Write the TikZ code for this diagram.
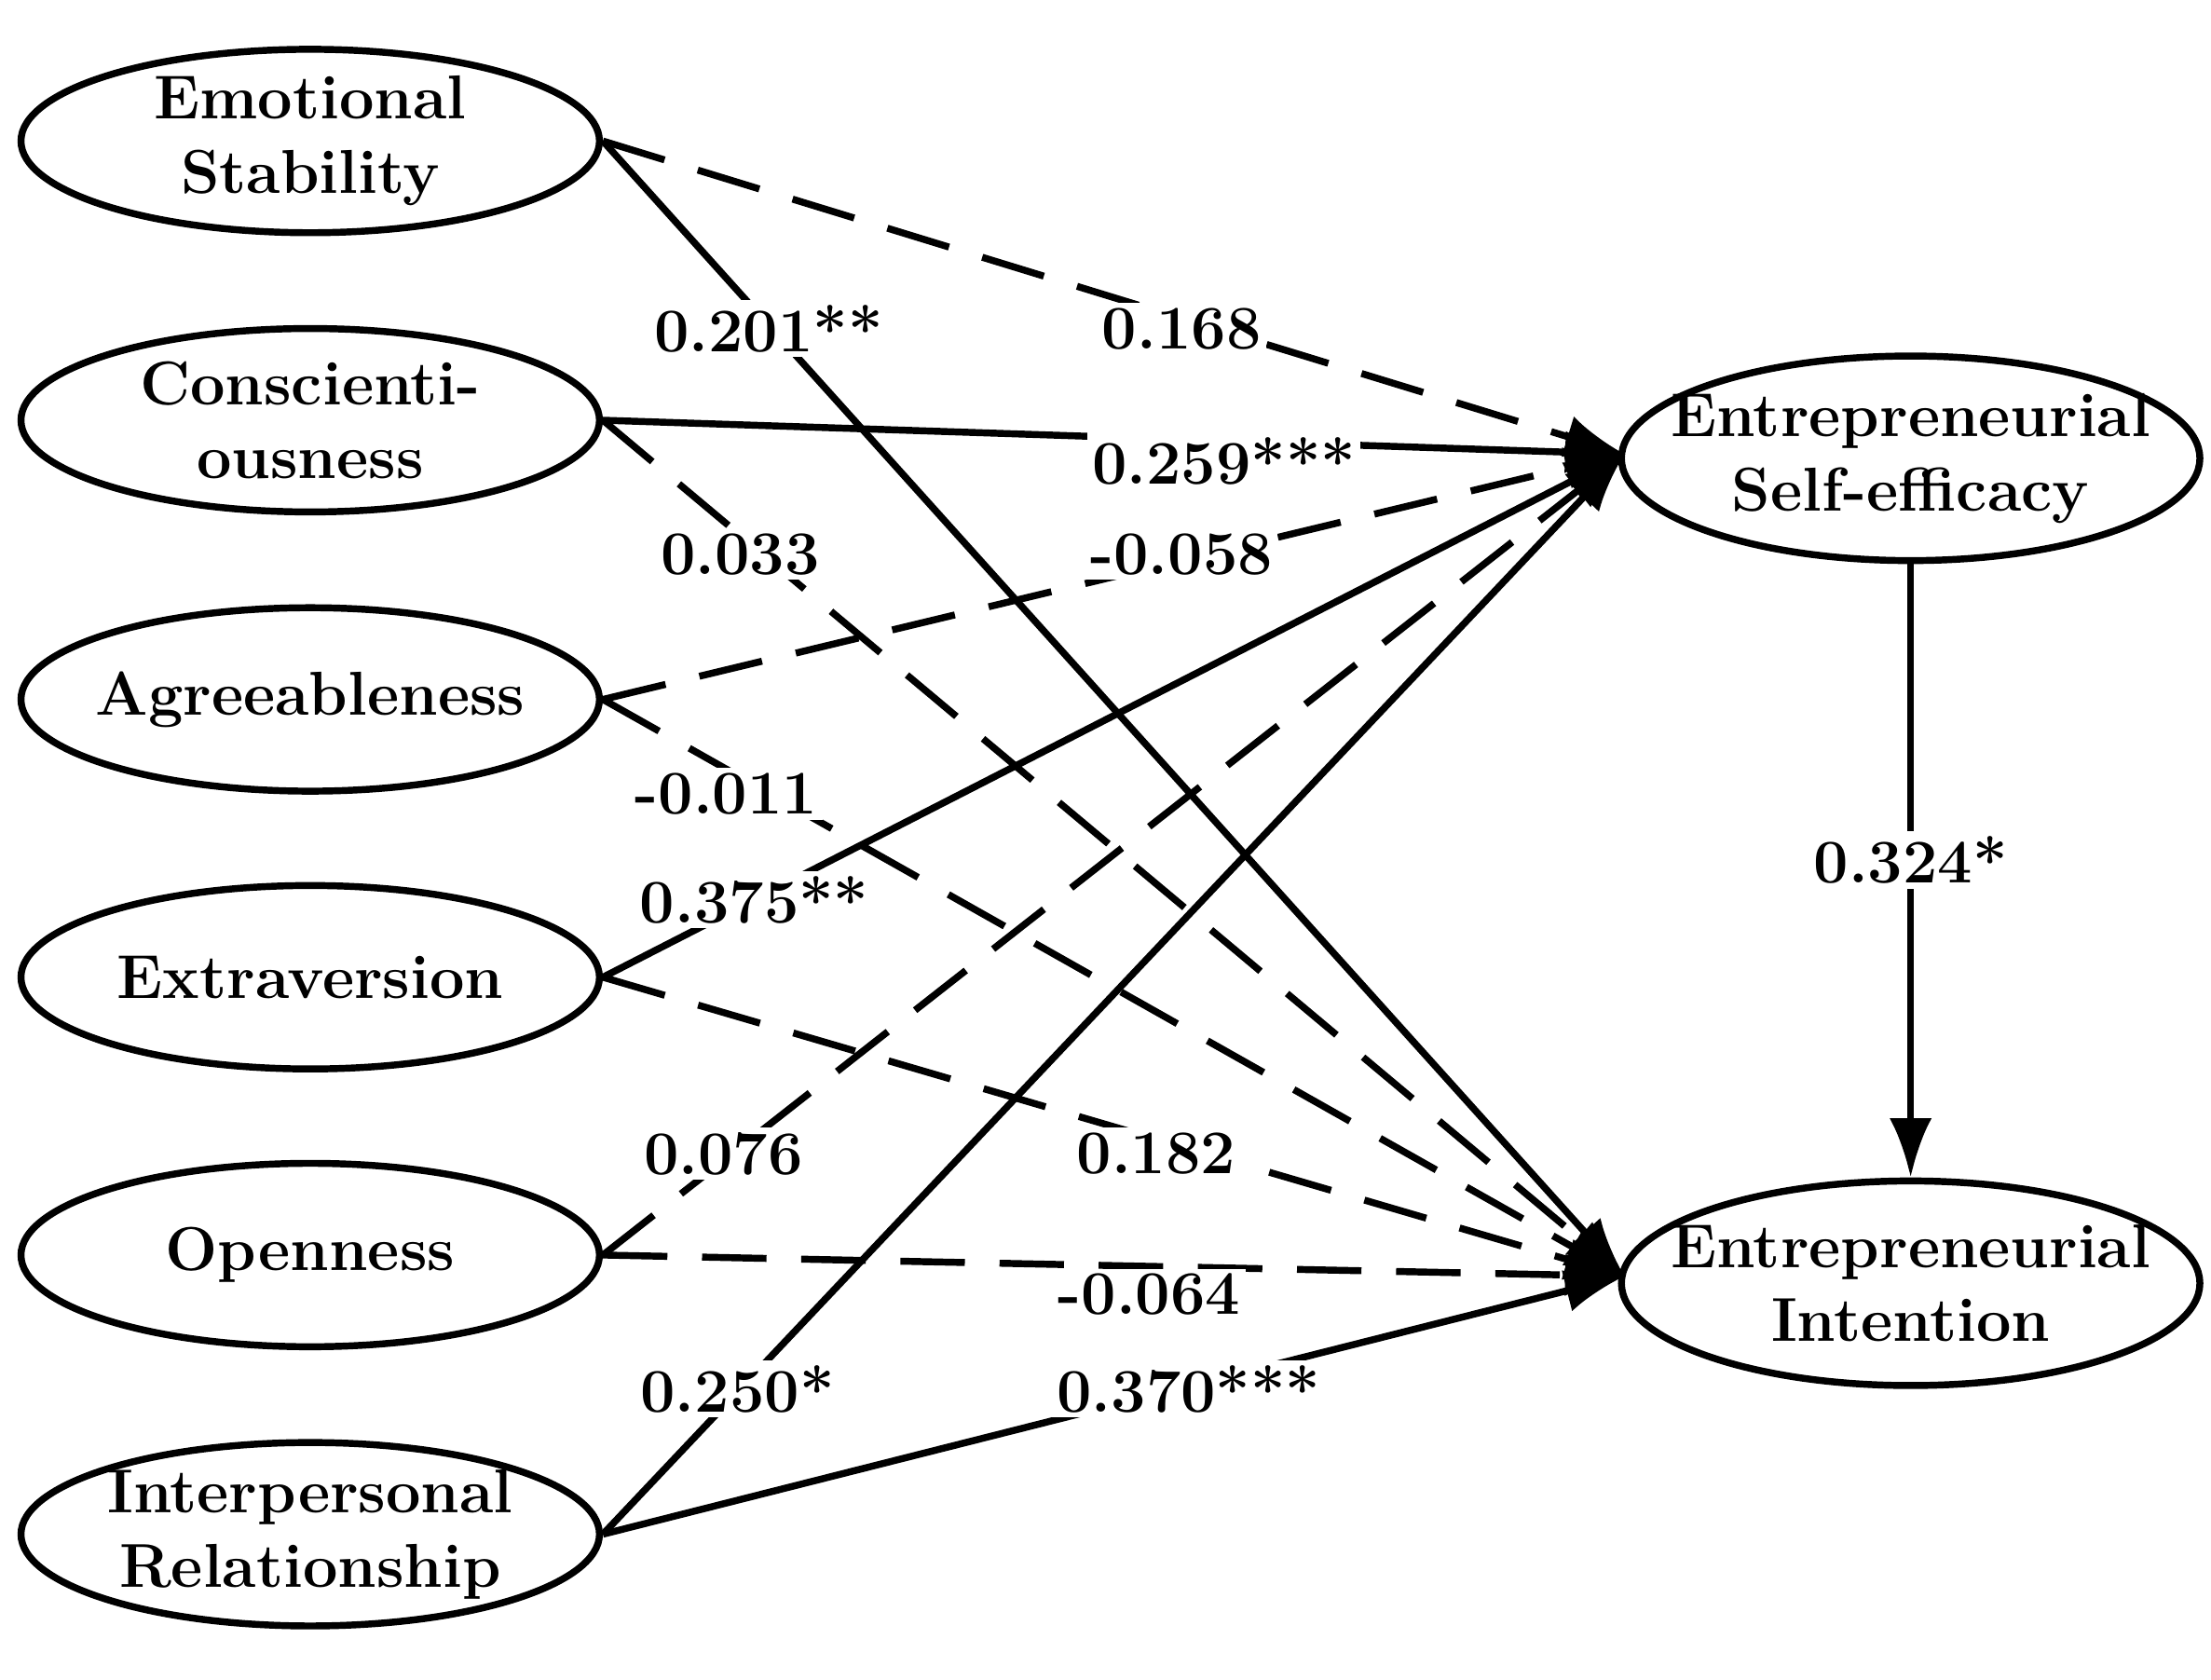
\documentclass[tikz,border=0pt]{standalone}
\usepackage{tikz}
\usetikzlibrary{shapes.geometric,arrows.meta}
\tikzset{>={Latex[length=0.42cm,width=0.3cm]}}
\begin{document}
\begin{tikzpicture}[x=0.01cm,y=-0.01cm]
                % trait = left ellipse, outcome = right ellipse, coef = path label
                \tikzstyle{trait}=[ellipse, draw=black, line width=1.4pt, inner xsep=-14pt, inner ysep=-2pt, minimum width=4.1cm, minimum height=1.3cm, align=center, font=\fontsize{12.5}{15}\selectfont\bfseries]
                \tikzstyle{outcome}=[trait, minimum height=1.45cm]
                \tikzstyle{sigpath}=[black, ->, line width=1.4pt]
                \tikzstyle{nspath}=[sigpath, dash pattern=on 13pt off 7pt]
                \tikzstyle{coef}=[fill=white, inner sep=1pt, font=\fontsize{12.5}{15}\selectfont\bfseries]
                \useasboundingbox (0,0) rectangle (1568,1191);
                \node[trait] (ES) at (220,100) {Emotional\\Stability};
                \node[trait] (CO) at (220,298) {Conscienti-\\ousness};
                \node[trait] (AG) at (220,496) {Agreeableness};
                \node[trait] (EX) at (220,693) {Extraversion};
                \node[trait] (OP) at (220,890) {Openness};
                \node[trait] (IR) at (220,1088) {Interpersonal\\Relationship};
                \node[outcome] (SE) at (1355,325) {Entrepreneurial\\Self-efficacy};
                \node[outcome] (EI) at (1355,910) {Entrepreneurial\\Intention};
                \coordinate (SEin) at (1152,322);
                \coordinate (EIin) at (1152,905);

                % paths to self-efficacy
                \draw[nspath] (ES.east) -- (SEin);
                \draw[sigpath] (CO.east) -- (SEin);
                \draw[nspath] (AG.east) -- (SEin);
                \draw[sigpath] (EX.east) -- (SEin);
                \draw[nspath] (OP.east) -- (SEin);
                \draw[sigpath] (IR.east) -- (SEin);

                % paths to intention
                \draw[sigpath] (ES.east) -- (EIin);
                \draw[nspath] (CO.east) -- (EIin);
                \draw[nspath] (AG.east) -- (EIin);
                \draw[nspath] (EX.east) -- (EIin);
                \draw[nspath] (OP.east) -- (EIin);
                \draw[sigpath] (IR.east) -- (EIin);
                \draw[sigpath] (SE.south) -- (EI.north);

                \node[coef] at (545,233) {0.201**};
                \node[coef] at (838,233) {0.168};
                \node[coef] at (868,327) {0.259***};
                \node[coef] at (525,393) {0.033};
                \node[coef] at (838,393) {-0.058};
                \node[coef] at (515,563) {-0.011};
                \node[coef] at (535,638) {0.375**};
                \node[coef] at (1355,610) {0.324*};
                \node[coef] at (513,818) {0.076};
                \node[coef] at (820,818) {0.182};
                \node[coef] at (815,918) {-0.064};
                \node[coef] at (523,985) {0.250*};
                \node[coef] at (843,985) {0.370***};
        \end{tikzpicture}
\end{document}
